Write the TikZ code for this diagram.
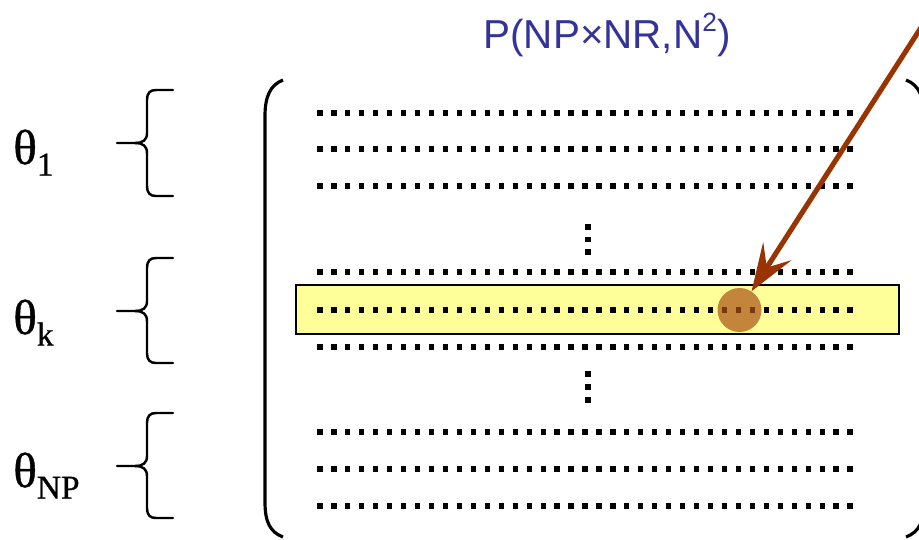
\documentclass[tikz,border=0pt]{standalone}
\usepackage{fontspec}
\setmainfont{Liberation Serif}
\newfontfamily\titlefont{Liberation Sans}
\newfontfamily\thetafont[FakeBold=0.8]{Liberation Serif}
\definecolor{titleblue}{RGB}{51,51,153}
\definecolor{bandyellow}{RGB}{255,255,153}
\definecolor{arrowbrown}{RGB}{153,51,0}
\definecolor{hitbrown}{RGB}{170,80,20}
\usetikzlibrary{arrows.meta}
\newcommand{\thsub}[1]{\raisebox{-6.6pt}{\fontsize{19}{19}\selectfont #1}}
\newcommand{\sqsup}[1]{\raisebox{0.42em}{\fontsize{15}{15}\selectfont #1}}

\begin{document}
\begin{tikzpicture}[x=0.02cm,y=-0.02cm,
      dotrow/.style={line width=3pt,line cap=butt,dash pattern=on 3pt off 4.94pt},
      bracket/.style={line width=1.4pt,line cap=round},
      paren/.style={line width=1.8pt},
      thlabel/.style={anchor=base west,inner sep=0pt,font=\thetafont\fontsize{28}{28}\selectfont}]

      \useasboundingbox (0,0) rectangle (919,539);
      \clip (0,0) rectangle (919,539);

      \node[font=\titlefont\fontsize{23}{23}\selectfont,color=titleblue] (title) at (607,35) {P(NP×NR,N\sqsup{2})};

      % Parentheses of the matrix
      \draw[paren] (283,80) .. controls (270,85) and (265,97) .. (265,116)
                   -- (265,502) .. controls (265,522) and (270,532) .. (283,537);
      \draw[paren] (906,80) .. controls (919,85) and (924,97) .. (924,116)
                   -- (924,502) .. controls (924,522) and (919,532) .. (906,537);

      % Highlighted row
      \node[draw,line width=1pt,fill=bandyellow,inner sep=0pt,
            minimum width=12.06cm,minimum height=0.98cm] (band) at (597.5,309.5) {};

      % Rows of dots
      \foreach \y in {113,149,186,272,310,347,432,469,506}{
        \draw[dotrow] (317.3,\y) -- (854.8,\y);
      }
      \foreach \y in {227,239.5,252,374,387,400}{
        \fill (585.4,{\y-2.6}) rectangle +(5.2,5.2);
      }

      \node[circle,fill=hitbrown,fill opacity=0.7,inner sep=0pt,minimum size=0.88cm] (hit) at (739.5,310) {};
      \coordinate (src) at (940,-2);
      \draw[arrowbrown,line width=2.9pt,-{Stealth[length=27pt,width=19pt,inset=11pt]}] (src) -- (hit);

      % Braces
      \foreach \t/\m/\b in {90/143/196,258/311/363,413/466/518}{
        \draw[bracket] (173,\t) -- (156,\t) .. controls (150,\t) and (147,{\t+3}) .. (147,{\t+10})
          -- (147,{\m-10}) .. controls (147,{\m-3}) and (143,\m) .. (135,\m) -- (117,\m);
        \draw[bracket] (135,\m) .. controls (143,\m) and (147,{\m+3}) .. (147,{\m+10})
          -- (147,{\b-10}) .. controls (147,{\b-3}) and (150,\b) .. (156,\b) -- (173,\b);
      }

      \node[thlabel] (th1)  at (13,164) {θ\thsub{1}};
      \node[thlabel] (thk)  at (13,334) {θ\thsub{k}};
      \node[thlabel] (thNP) at (13,487) {θ\thsub{NP}};
    \end{tikzpicture}
\end{document}
